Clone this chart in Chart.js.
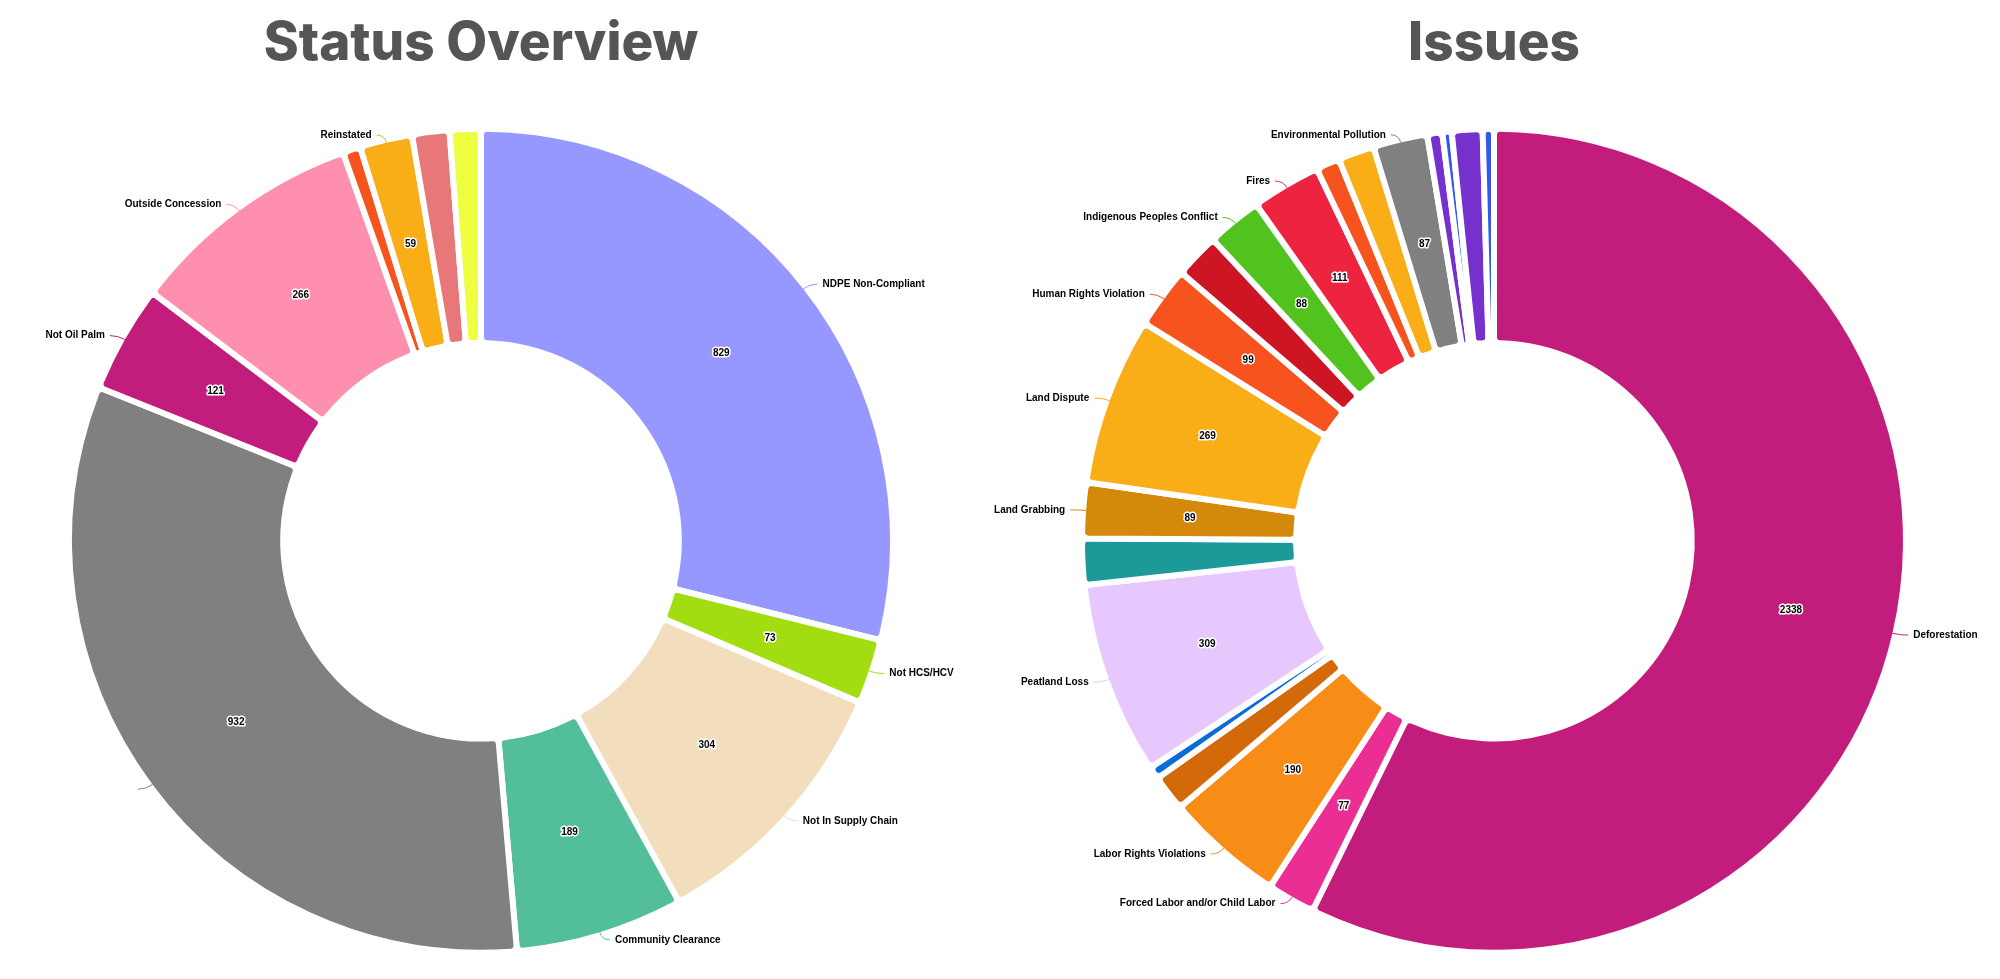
<!DOCTYPE html>
<html>
<head>
<meta charset="utf-8">
<script src="https://cdn.jsdelivr.net/npm/chart.js@4/dist/chart.umd.min.js"></script>
<style>
  html, body { margin: 0; padding: 0; background: #fff; overflow: hidden; }
  body { width: 2000px; height: 979px; position: relative; }
  canvas { position: absolute; top: 0; }
  #statusChart { left: -19px; }
  #issuesChart { left: 994px; }
</style>
</head>
<body>
<canvas id="statusChart" width="1000" height="979"></canvas>
<canvas id="issuesChart" width="1000" height="979"></canvas>
<script>
// status overview (clockwise from top)
const statusLabels = ["NDPE Non-Compliant", "Not HCS/HCV", "Not In Supply Chain", "Community Clearance", "",
  "Not Oil Palm", "Outside Concession", "Suspended", "Reinstated", "Under Review", "Monitoring"];
const statusValues = [829, 73, 304, 189, 932, 121, 266, 20, 59, 42, 35];
const statusColors = ["#9698FF", "#A2DD12", "#F2DEBD", "#52BE9B", "#808080", "#C21D7C", "#FF8FAE",
  "#F7531E", "#F9AD17", "#E87779", "#EEFF41"];

// issues (clockwise from top)
const issueLabels = ["Deforestation", "Forced Labor and/or Child Labor", "Labor Rights Violations", "Illegal Logging",
  "Water Pollution", "Peatland Loss", "Biodiversity Loss", "Land Grabbing", "Land Dispute", "Human Rights Violation",
  "Violence", "Indigenous Peoples Conflict", "Fires", "Haze", "Legality", "Environmental Pollution",
  "Corruption", "Wildlife", "Smallholder Exclusion", "Other"];
const issueValues = [2338, 77, 190, 58, 20, 309, 74, 89, 269, 99, 72, 88, 111, 38, 58, 87, 24, 15, 49, 18];
const issueColors = ["#C21D7C", "#EA2E94", "#F78C17", "#D4690A", "#0B6BD8", "#E6C8FF", "#1C9A9A", "#D4890A",
  "#F9AD17", "#F7531E", "#CD1523", "#52C21E", "#ED233F", "#F7531E", "#F9AD17", "#808080",
  "#7530CE", "#3559E8", "#7530CE", "#3559E8"];

// labels outside with a short leader line, value inside the slice
const sliceLabels = {
  id: "sliceLabels",
  afterDatasetsDraw(chart, args, opts) {
    const ctx = chart.ctx;
    const ds = chart.data.datasets[0];
    const meta = chart.getDatasetMeta(0);
    const total = ds.data.reduce((a, b) => a + b, 0);
    ctx.save();
    meta.data.forEach((arc, i) => {
      const v = ds.data[i];
      if (v / total * 360 < opts.minAngle) return;
      const p = arc.getProps(["x", "y", "startAngle", "endAngle", "outerRadius", "innerRadius"], true);
      const mid = (p.startAngle + p.endAngle) / 2;
      const cos = Math.cos(mid), sin = Math.sin(mid);

      ctx.font = "bold 10px 'Liberation Sans', Arial, sans-serif";
      ctx.textAlign = "center";
      ctx.textBaseline = "middle";
      const rm = (p.outerRadius + p.innerRadius) / 2;
      ctx.lineJoin = "round";
      ctx.lineWidth = 3;
      ctx.strokeStyle = "#fff";
      ctx.strokeText(v, p.x + cos * rm, p.y + sin * rm);
      ctx.fillStyle = "#000";
      ctx.fillText(v, p.x + cos * rm, p.y + sin * rm);

      const r0 = p.outerRadius - 3;
      const r1 = p.outerRadius + 5;
      const dir = cos >= 0 ? 1 : -1;
      const x0 = p.x + cos * r0, y0 = p.y + sin * r0;
      const x1 = p.x + cos * r1, y1 = p.y + sin * r1;
      const x2 = x1 + dir * 8;
      ctx.beginPath();
      ctx.moveTo(x0, y0);
      ctx.quadraticCurveTo(x1, y1, x2, y1);
      ctx.lineWidth = 1;
      ctx.strokeStyle = ds.backgroundColor[i];
      ctx.stroke();

      ctx.textAlign = dir > 0 ? "left" : "right";
      ctx.fillStyle = "#000";
      ctx.fillText(chart.data.labels[i], x2 + dir * 5, y1);
    });
    ctx.restore();
  }
};

function makeDoughnut(id, title, labels, values, colors) {
  const ctx = document.getElementById(id).getContext("2d");
  return new Chart(ctx, {
    type: "doughnut",
    data: {
      labels: labels,
      datasets: [{
        data: values,
        backgroundColor: colors,
        borderColor: "#fff",
        borderWidth: 6,
        borderRadius: 6,
      }],
    },
    options: {
      responsive: false,
      animation: false,
      cutout: "48%",
      layout: { padding: { top: 0, bottom: 23, left: 85, right: 85 } },
      plugins: {
        legend: { display: false },
        tooltip: { enabled: false },
        title: {
          display: true,
          text: title,
          color: "#555",
          font: { family: "Inter", weight: 800, size: 53, lineHeight: 1.2 },
          padding: { top: 12, bottom: 50 },
        },
        sliceLabels: { minAngle: 6.65 },
      },
    },
    plugins: [sliceLabels],
  });
}

makeDoughnut("statusChart", "Status Overview", statusLabels, statusValues, statusColors);
makeDoughnut("issuesChart", "Issues", issueLabels, issueValues, issueColors);
</script>
</body>
</html>
